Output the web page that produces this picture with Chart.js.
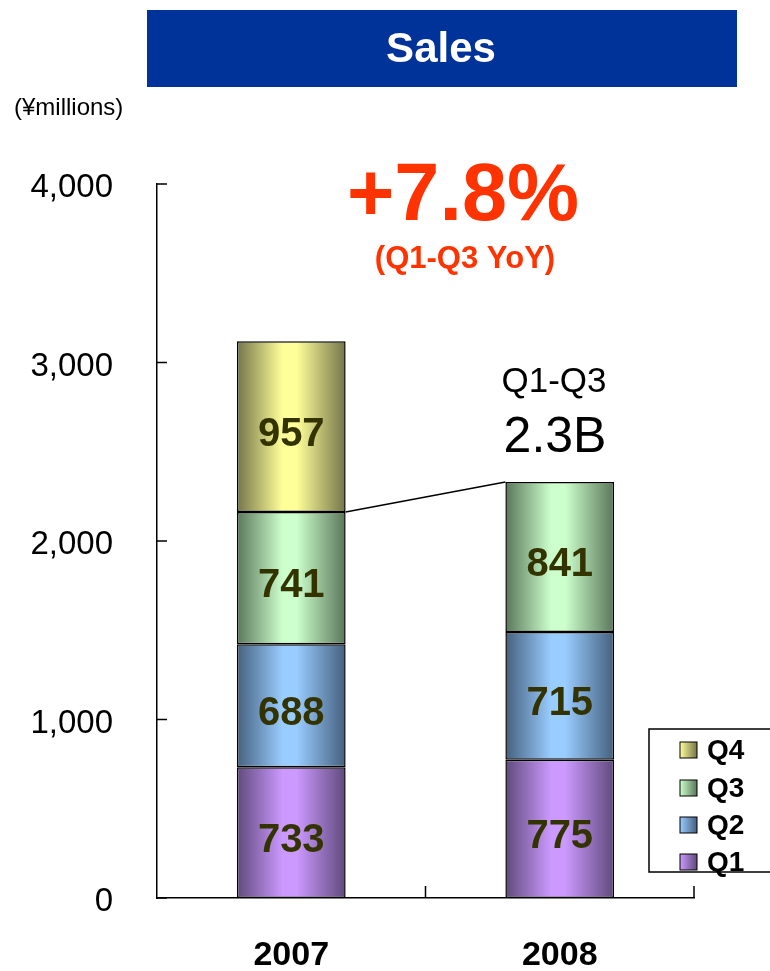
<!DOCTYPE html>
<html>
<head>
<meta charset="utf-8">
<script src="https://cdn.jsdelivr.net/npm/chart.js@4"></script>
<style>
  html, body { margin: 0; padding: 0; background: #fff; }
  canvas { display: block; }
</style>
</head>
<body>
<canvas id="salesChart" width="770" height="971"></canvas>
<script>
// data (¥ millions)
const years = ['2007', '2008'];
const quarters = ['Q1', 'Q2', 'Q3', 'Q4'];
const q1 = [733, 775];
const q2 = [688, 715];
const q3 = [741, 841];
const q4 = [957, null];
const yTicks = [0, 1000, 2000, 3000, 4000];

const barPct = 0.405;
const FONT = "'Liberation Sans', Arial, sans-serif";

// light centre, dark edges
const shades = {
    Q1: ['#cc99ff', '#5f4a7c'],
    Q2: ['#99ccff', '#45607e'],
    Q3: ['#ccffcc', '#5a765a'],
    Q4: ['#ffff99', '#74744a']
};

function barGradient(name){
    const light = shades[name][0], dark = shades[name][1];
    return function(c){
        const chart = c.chart;
        const xs = chart.scales && chart.scales.x;
        if (!chart.chartArea || !xs) return light;
        const cx = xs.getPixelForValue(c.dataIndex);
        const half = (xs.width / years.length) * barPct / 2;
        if (!isFinite(cx) || !isFinite(half)) return light;
        const g = chart.ctx.createLinearGradient(cx - half, 0, cx + half, 0);
        g.addColorStop(0, dark);
        g.addColorStop(0.42, light);
        g.addColorStop(0.55, light);
        g.addColorStop(1, dark);
        return g;
    };
}

const seriesData = [q1, q2, q3, q4];

const extras = {
    id: 'extras',
    beforeDraw(chart){
        const ctx = chart.ctx;
        ctx.save();
        // title banner
        ctx.fillStyle = '#003399';
        ctx.fillRect(147, 10, 590, 77);
        ctx.fillStyle = '#fff';
        ctx.font = 'bold 42px ' + FONT;
        ctx.textAlign = 'center';
        ctx.textBaseline = 'middle';
        ctx.fillText('Sales', 441, 50);
        // unit
        ctx.fillStyle = '#000';
        ctx.font = '24px ' + FONT;
        ctx.textAlign = 'left';
        ctx.fillText('(¥millions)', 14, 108);
        // headline
        ctx.fillStyle = '#ff3300';
        ctx.textAlign = 'center';
        ctx.textBaseline = 'alphabetic';
        ctx.font = 'bold 81px ' + FONT;
        ctx.fillText('+7.8%', 463, 220);
        ctx.font = 'bold 31px ' + FONT;
        ctx.fillText('(Q1-Q3 YoY)', 465, 268);
        ctx.fillStyle = '#000';
        ctx.font = '35px ' + FONT;
        ctx.fillText('Q1-Q3', 554, 392);
        ctx.font = '50px ' + FONT;
        ctx.fillText('2.3B', 555, 452);
        ctx.restore();
    },
    afterDatasetsDraw(chart){
        const ctx = chart.ctx;
        const xs = chart.scales.x, ys = chart.scales.y;
        ctx.save();
        // value labels
        ctx.fillStyle = '#333300';
        ctx.font = 'bold 40px ' + FONT;
        ctx.textAlign = 'center';
        ctx.textBaseline = 'middle';
        chart.data.datasets.forEach((ds, i) => {
            chart.getDatasetMeta(i).data.forEach((bar, j) => {
                if (ds.data[j] == null) return;
                ctx.fillText(String(ds.data[j]), bar.x, (bar.y + bar.base) / 2 + 8);
            });
        });
        // connector from 2007 Q3 top to 2008 Q3 top
        const m = chart.getDatasetMeta(2).data;
        ctx.strokeStyle = '#000';
        ctx.lineWidth = 1.5;
        ctx.beginPath();
        ctx.moveTo(m[0].x + m[0].width / 2, m[0].y);
        ctx.lineTo(m[1].x - m[1].width / 2, m[1].y);
        ctx.stroke();
        // inward tick marks
        ctx.lineWidth = 1.5;
        ctx.beginPath();
        yTicks.forEach(v => {
            const y = ys.getPixelForValue(v);
            ctx.moveTo(xs.left, y);
            ctx.lineTo(xs.left + 10, y);
        });
        const mid = (xs.getPixelForValue(0) + xs.getPixelForValue(1)) / 2;
        [mid, xs.right].forEach(x => {
            ctx.moveTo(x, ys.bottom);
            ctx.lineTo(x, ys.bottom - 12);
        });
        ctx.stroke();
        ctx.restore();
    },
    afterDraw(chart){
        const ctx = chart.ctx;
        ctx.save();
        // legend box
        ctx.fillStyle = '#fff';
        ctx.fillRect(649, 729, 140, 143);
        ctx.strokeStyle = '#000';
        ctx.lineWidth = 1.5;
        ctx.strokeRect(649, 729, 140, 143);
        ctx.font = 'bold 28px ' + FONT;
        ctx.textAlign = 'left';
        ctx.textBaseline = 'middle';
        const rows = [750, 788, 825, 862];
        quarters.slice().reverse().forEach((q, k) => {
            const y = rows[k];
            const g = ctx.createLinearGradient(680, 0, 697, 0);
            g.addColorStop(0, shades[q][0]);
            g.addColorStop(1, shades[q][1]);
            ctx.fillStyle = g;
            ctx.fillRect(680, y - 8, 17, 16);
            ctx.lineWidth = 1;
            ctx.strokeStyle = '#000';
            ctx.strokeRect(680, y - 8, 17, 16);
            ctx.fillStyle = '#000';
            ctx.fillText(q, 707, y + 1);
        });
        ctx.restore();
    }
};

new Chart(document.getElementById('salesChart'), {
    type: 'bar',
    data: {
        labels: years,
        datasets: quarters.map((q, i) => ({
            label: q,
            data: seriesData[i],
            backgroundColor: barGradient(q),
            borderColor: '#000',
            borderWidth: 1.5,
            borderSkipped: false,
            barPercentage: barPct,
            categoryPercentage: 1
        }))
    },
    options: {
        responsive: false,
        animation: false,
        events: [],
        layout: { padding: { top: 184, right: 76, left: 0, bottom: 0 } },
        plugins: {
            legend: { display: false },
            tooltip: { enabled: false }
        },
        scales: {
            x: {
                stacked: true,
                grid: { display: false, drawTicks: false },
                border: { display: true, color: '#000', width: 1.5 },
                ticks: {
                    color: '#000',
                    padding: 37,
                    font: { family: FONT, size: 34, weight: 'bold' }
                },
                afterFit(scale){ scale.height = 73; }
            },
            y: {
                stacked: true,
                min: 0,
                max: 4000,
                grid: { display: false, drawTicks: false },
                border: { display: true, color: '#000', width: 1.5 },
                ticks: {
                    stepSize: 1000,
                    color: '#000',
                    padding: 44,
                    labelOffset: 4,
                    font: { family: FONT, size: 33 },
                    callback: v => v.toLocaleString('en-US')
                },
                afterFit(scale){ scale.width = 157; }
            }
        }
    },
    plugins: [extras]
});
</script>
</body>
</html>
